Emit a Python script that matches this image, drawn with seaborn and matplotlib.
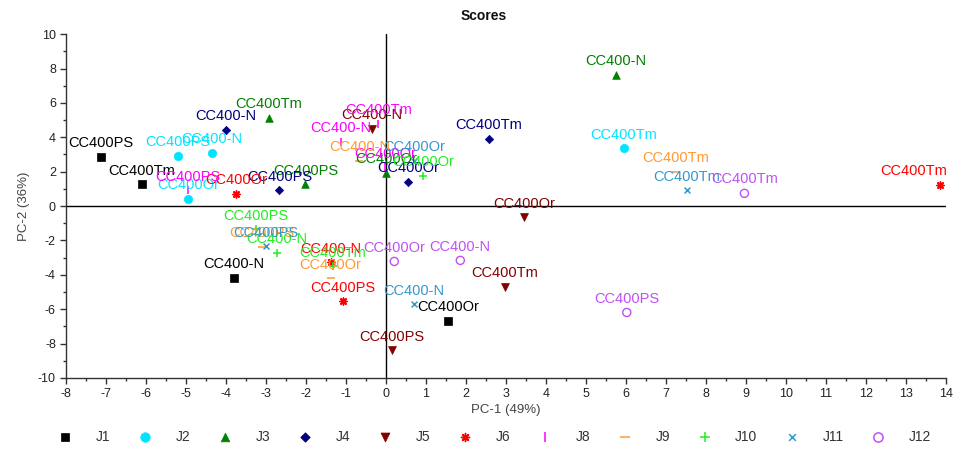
import matplotlib
matplotlib.use("Agg")
import matplotlib.pyplot as plt
from matplotlib.ticker import MultipleLocator
import seaborn as sns
import pandas as pd

# ---------------- data ----------------
groups = ["J1", "J2", "J3", "J4", "J5", "J6", "J8", "J9", "J10", "J11", "J12"]
samples = ["CC400PS", "CC400Tm", "CC400-N", "CC400Or"]

# PC-1 scores, one row per group, columns in the order of `samples`
pc1 = [
    [-7.12, -6.10, -3.80, 1.56],   # J1
    [-5.20, 5.95, -4.35, -4.95],   # J2
    [-2.01, -2.93, 5.75, 0.00],    # J3
    [-2.66, 2.58, -4.00, 0.56],    # J4
    [0.16, 2.98, -0.34, 3.45],     # J5
    [-1.08, 13.85, -1.38, -3.75],  # J6
    [-4.95, -0.19, -1.13, -0.01],  # J8
    [-3.10, 7.24, -0.66, -1.38],   # J9
    [-3.25, -1.33, -2.73, 0.94],   # J10
    [-3.00, 7.52, 0.71, 0.70],     # J11
    [6.02, 8.96, 1.86, 0.21],      # J12
]
# PC-2 scores
pc2 = [
    [2.84, 1.26, -4.19, -6.66],    # J1
    [2.89, 3.35, 3.07, 0.39],      # J2
    [1.26, 5.11, 7.61, 1.92],      # J3
    [0.91, 3.88, 4.41, 1.40],      # J4
    [-8.40, -4.73, 4.48, -0.66],   # J5
    [-5.55, 1.21, -3.28, 0.68],    # J6
    [0.91, 4.76, 3.71, 2.25],      # J8
    [-2.40, 1.96, 2.60, -4.21],    # J9
    [-1.36, -3.51, -2.75, 1.73],   # J10
    [-2.35, 0.91, -5.72, 2.62],    # J11
    [-6.19, 0.74, -3.16, -3.22],   # J12
]

colors = ["#000000", "#00E5FF", "#008000", "#000080", "#800000", "#FF0000",
          "#FF00FF", "#FF9933", "#22EE22", "#3399CC", "#C050F5"]
markers = ["s", "o", "^", "D", "v", (8, 2, 0), "|", "_", "+", "x", "o"]
sizes = [30, 36, 30, 18, 32, 26, 40, 40, 40, 18, 34]
line_markers = ("|", "_", "+", "x")

rows = []
for g, xs, ys in zip(groups, pc1, pc2):
    for s, x, y in zip(samples, xs, ys):
        rows.append({"group": g, "sample": s, "PC1": x, "PC2": y})
df = pd.DataFrame(rows)

# ---------------- figure ----------------
sns.set_style("white")
plt.rcParams["font.family"] = ["Liberation Sans", "DejaVu Sans"]
plt.rcParams["axes.unicode_minus"] = False

fig = plt.figure(figsize=(9.58, 4.53), dpi=100)
ax = fig.add_axes([0.0686, 0.1656, 0.919, 0.759])

ax.axhline(0, color="black", lw=1.0, zorder=1)
ax.axvline(0, color="black", lw=1.0, zorder=1)

for g, col, mk, sz in zip(groups, colors, markers, sizes):
    sub = df[df["group"] == g]
    kw = dict(marker=mk, s=sz, color=col, label=g, zorder=3)
    if g == "J12":
        kw.update(facecolor="none", edgecolor=col, linewidth=1.0)
    elif isinstance(mk, tuple) or mk in line_markers:
        kw.update(edgecolor=col, linewidth=1.1)
    else:
        kw.update(edgecolor=col, linewidth=0.5)
    sns.scatterplot(data=sub, x="PC1", y="PC2", ax=ax, legend=False, **kw)
    for _, r in sub.iterrows():
        if r["PC1"] > 13:
            ha, dx = "right", 5
        else:
            ha, dx = "center", 0
        ax.annotate(r["sample"], (r["PC1"], r["PC2"]), xytext=(dx, 10),
                    textcoords="offset points", ha=ha, va="center",
                    fontsize=10.5, color=col, zorder=4, annotation_clip=False)

ax.set_xlim(-8, 14)
ax.set_ylim(-10, 10)
ax.xaxis.set_major_locator(MultipleLocator(1))
ax.xaxis.set_minor_locator(MultipleLocator(0.5))
ax.yaxis.set_major_locator(MultipleLocator(2))
ax.yaxis.set_minor_locator(MultipleLocator(1))
ax.tick_params(axis="both", which="major", direction="out", length=4, width=1,
               color="#333333", labelsize=9, labelcolor="#222222", pad=3,
               bottom=True, left=True)
ax.tick_params(axis="both", which="minor", direction="out", length=2.5, width=1,
               color="#333333", bottom=True, left=True)
for side in ["top", "right"]:
    ax.spines[side].set_visible(False)
for side in ["left", "bottom"]:
    ax.spines[side].set_color("#333333")
    ax.spines[side].set_linewidth(1.0)

ax.set_xlabel("PC-1 (49%)", fontsize=9.5, color="#444444", labelpad=3)
ax.set_ylabel("PC-2 (36%)", fontsize=9.5, color="#444444", labelpad=6)
fig.text(0.505, 0.965, "Scores", ha="center", va="center",
         fontsize=10, fontweight="bold", color="#111111")

handles = []
for g, col, mk, sz in zip(groups, colors, markers, sizes):
    lw = 1.1 if (isinstance(mk, tuple) or mk in line_markers or g == "J12") else 0.5
    h = ax.scatter([], [], marker=mk, s=sz * 1.3, color=col,
                   facecolor="none" if g == "J12" else None,
                   edgecolor=col, linewidth=lw)
    handles.append(h)
fig.legend(handles, groups, loc="center", bbox_to_anchor=(0.513, 0.035),
           ncol=11, frameon=False, fontsize=10, handlelength=2.0,
           handletextpad=1.2, columnspacing=1.5, scatterpoints=1,
           labelcolor="#333333")

fig.savefig("out.png", dpi=100)
